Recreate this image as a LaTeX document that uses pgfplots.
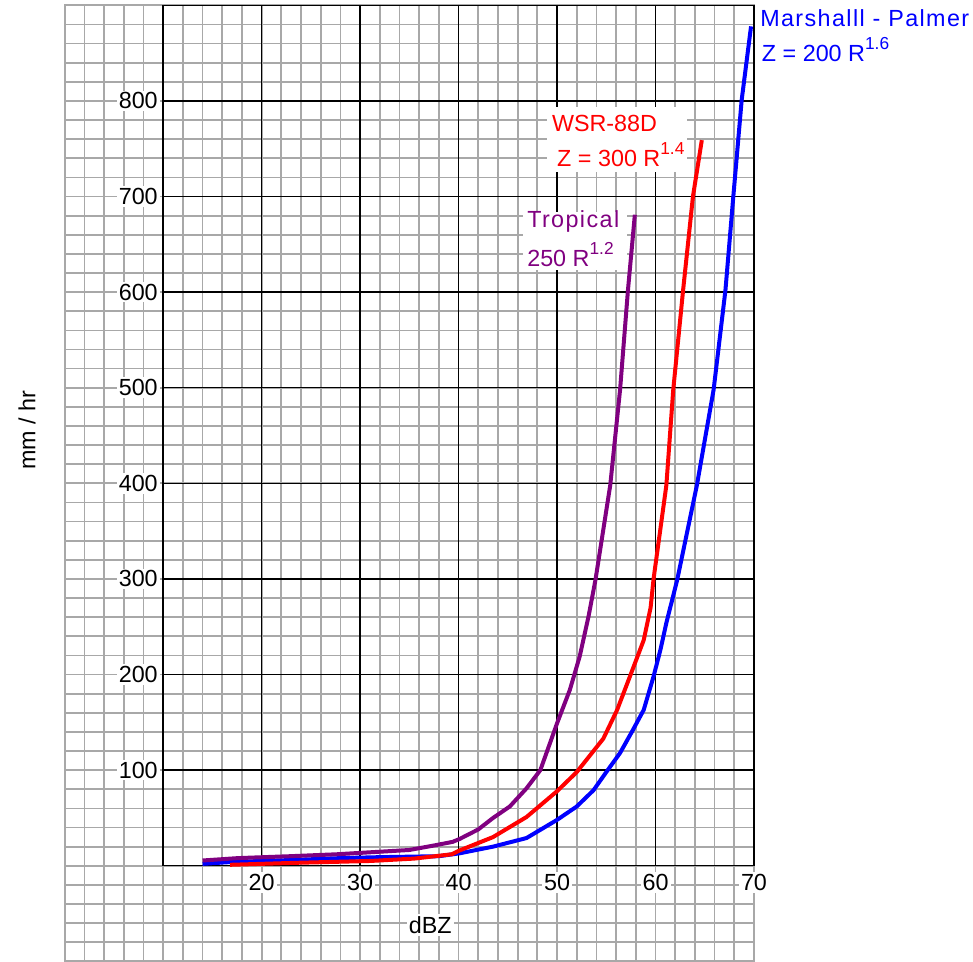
\documentclass[border=0pt]{standalone}
\usepackage{pgfplots}
\pgfplotsset{compat=1.18}
\usepackage{fontspec}
\setmainfont{Liberation Sans}
\newfontfamily\widefont[LetterSpace=6]{Liberation Sans}
\definecolor{gridgray}{RGB}{168,168,168}
\definecolor{trop}{RGB}{128,0,128}
\newcommand{\lbl}{\fontsize{17.5}{17.5}\selectfont}
\newcommand{\wlbl}{\widefont\fontsize{17.5}{17.5}\selectfont}
\newcommand{\supr}[1]{\raisebox{9pt}{\fontsize{13}{13}\selectfont #1}}
\begin{document}
\begin{tikzpicture}
% extended background grid
\begin{axis}[
  name=bg,
  scale only axis,
  width=516.9pt, height=717pt,
  xmin=0, xmax=70, ymin=-100, ymax=900,
  xtick={0,2,...,70}, ytick={-100,-80,...,900},
  xticklabels={}, yticklabels={},
  major tick length=0pt,
  grid=major,
  major grid style={gridgray, line width=1.3pt},
  axis line style={gridgray, line width=1.3pt},
]
\coordinate (o) at (axis cs:10,0);
\coordinate (bbsw) at (axis cs:-6.575,-100.6);
\coordinate (bbne) at (axis cs:92.25,905.6);
\end{axis}
% main axis
\begin{axis}[
  at={(o)}, anchor=south west,
  scale only axis,
  width=443.1pt, height=645.3pt,
  xmin=10, xmax=70, ymin=0, ymax=900,
  xtick={20,30,...,70}, ytick={100,200,...,800},
  major tick length=0pt,
  grid=major,
  major grid style={black, line width=1.1pt},
  axis line style={black, line width=1.1pt},
  clip=false,
  /pgf/number format/assume math mode=true,
  tick label style={font=\lbl, fill=white, inner sep=1.5pt},
  xticklabel style={anchor=center, yshift=-12.75pt, fill=white},
  yticklabel style={anchor=east, xshift=-2.4pt, fill=white},
  xlabel={dBZ},
  xlabel style={font=\lbl, fill=white, inner sep=1.5pt, at={(axis description cs:0.452,-0.0689)}, anchor=center},
  ylabel={mm / hr},
  ylabel style={font=\lbl, at={(axis description cs:-0.2305,0.5065)}, anchor=center},
]
\fill[white] (axis cs:48.98,725.7) rectangle (axis cs:63.2,793.7);
\fill[white] (axis cs:46.55,623.2) rectangle (axis cs:57.11,683.9);

% Marshall-Palmer
\addplot[blue, line width=3pt, line join=round] coordinates {
(14,2) (17,4) (23,6) (28,8) (32,9) (38,10) (40.1,13) (43.5,20) (46.9,29)
(50,48) (52,62) (53.7,79) (55,98) (56.4,118) (57.7,142) (58.8,163) (59.8,198)
(60.5,226) (61.1,254) (62.2,299) (64.2,398) (65.9,498) (67.1,602) (67.9,700)
(68.75,801) (69.7,878)
};
% WSR-88D
\addplot[red, line width=3pt, line join=round] coordinates {
(16.8,1) (23.2,3) (31,5) (35.5,7.5) (39.3,12) (40.1,16) (43.5,30) (46.9,51)
(50,78) (52,98) (54.7,133) (56.1,163) (57.4,198) (58.8,236) (59.5,270) (59.8,300)
(61.1,398) (61.8,498) (62.8,602) (63.8,700) (64.7,759)
};
% Tropical
\addplot[trop, line width=3pt, line join=round] coordinates {
(14,5.5) (17.6,8) (22.9,10) (27.6,12) (31.7,14.5) (35,16.5) (37.4,21) (39.4,25)
(40.1,28) (42,38) (43.5,50) (45.2,62) (46.9,81) (48.3,100) (50,149) (51.3,184)
(52.3,219) (53.2,261) (53.9,299) (55.4,398) (56.4,498) (57.2,602) (57.9,681)
};

\node[anchor=base west, text=red, font=\lbl, inner sep=0pt] at (axis cs:49.46,767.6) {WSR-88D};
\node[anchor=base west, text=red, font=\lbl, inner sep=0pt] at (axis cs:49.99,731) {Z = 300 R\supr{1.4}};
\node[anchor=base west, text=trop, font=\wlbl, inner sep=0pt] at (axis cs:46.95,667.2) {Tropical};
\node[anchor=base west, text=trop, font=\lbl, inner sep=0pt] at (axis cs:46.95,626.7) {250 R\supr{1.2}};
\node[anchor=base west, text=blue, font=\wlbl, inner sep=0pt] at (axis cs:70.61,877.4) {Marshalll - Palmer};
\node[anchor=base west, text=blue, font=\lbl, inner sep=0pt] at (axis cs:70.78,840.8) {Z = 200 R\supr{1.6}};
\end{axis}
\pgfresetboundingbox
\path[use as bounding box] (bbsw) rectangle (bbne);
\end{tikzpicture}
\end{document}
